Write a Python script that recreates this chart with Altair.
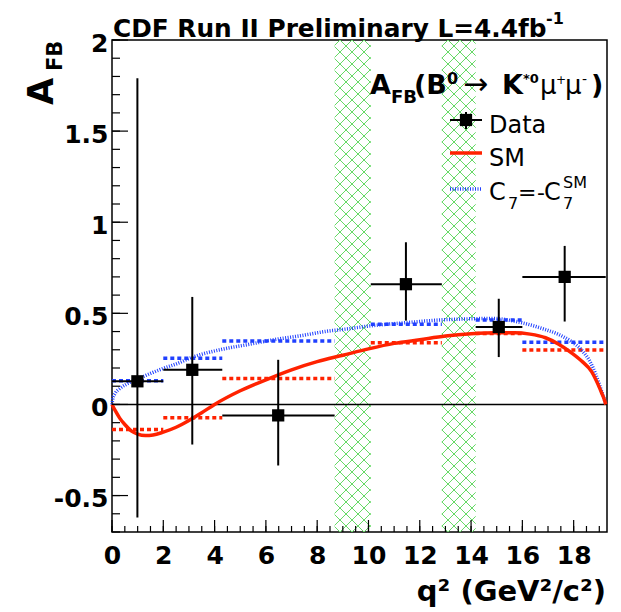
import altair as alt
import numpy as np
import pandas as pd

# ---------------- data ----------------
bin_lo = [0.0, 2.0, 4.3, 10.09, 14.18, 16.0]
bin_hi = [2.0, 4.3, 8.68, 12.86, 16.0, 19.25]
q2_center = [0.99, 3.13, 6.48, 11.46, 15.08, 17.65]
afb = [0.127, 0.19, -0.06, 0.66, 0.425, 0.70]
afb_lo = [-0.62, -0.22, -0.335, 0.46, 0.26, 0.455]
afb_hi = [1.79, 0.59, 0.245, 0.89, 0.58, 0.87]

sm_bin = [-0.137, -0.073, 0.143, 0.339, 0.39, 0.299]
c7_bin = [0.130, 0.253, 0.348, 0.440, 0.463, 0.341]

veto_lo = [8.68, 12.86]
veto_hi = [10.09, 14.18]

sm_q2 = [0.0, 0.15, 0.3, 0.5, 0.75, 1.0, 1.3, 1.6, 2.0, 2.5,
         3.0, 3.5, 4.0, 5.0, 6.0, 7.0, 8.0, 9.0, 10.0, 11.0,
         12.0, 13.0, 14.0, 15.0, 15.7, 16.3, 16.9, 17.4, 17.9, 18.3,
         18.7, 18.95, 19.1, 19.2, 19.25]
sm_afb = [0.0, -0.04, -0.075, -0.11, -0.145, -0.163, -0.171, -0.168, -0.152, -0.125,
          -0.088, -0.045, 0.0, 0.075, 0.135, 0.19, 0.235, 0.27, 0.305, 0.335,
          0.355, 0.375, 0.388, 0.394, 0.394, 0.386, 0.366, 0.332, 0.285, 0.24,
          0.18, 0.11, 0.06, 0.025, 0.0]

c7_q2 = [0.0, 0.03, 0.12, 0.31, 0.55, 0.83, 1.2, 1.5, 2.0, 2.5,
         3.15, 4.2, 5.35, 6.3, 7.3, 8.45, 9.2, 10.0, 11.4, 12.84,
         14.0, 14.9, 15.5, 15.94, 16.4, 16.85, 17.4, 17.88, 18.3, 18.66,
         18.85, 19.0, 19.12, 19.2, 19.25]
c7_afb = [0.0, 0.03, 0.06, 0.088, 0.11, 0.13, 0.152, 0.17, 0.198, 0.222,
          0.26, 0.3, 0.33, 0.355, 0.376, 0.403, 0.415, 0.43, 0.448, 0.464,
          0.47, 0.472, 0.462, 0.45, 0.433, 0.413, 0.385, 0.348, 0.3, 0.229,
          0.17, 0.11, 0.06, 0.025, 0.0]

x_labels = [0, 2, 4, 6, 8, 10, 12, 14, 16, 18]
y_labels = [-0.5, 0, 0.5, 1, 1.5, 2]

# ---------------- layout ----------------
X_DOM = [0.0, 19.3]
Y_DOM = [-0.7, 2.0]
W, H = 495, 492
OX, OY = 112, 40  # plot origin in the page
FONT = "DejaVu Sans"
RED = "#ff2200"
BLUE = "#2040ff"
GREEN = "#66d966"

xs = alt.Scale(domain=X_DOM, nice=False, zero=False)
ys = alt.Scale(domain=Y_DOM, nice=False, zero=False)
X_AXIS = alt.Axis(values=x_labels, ticks=False, domain=False, grid=False, title=None,
                  labelFont=FONT, labelFontWeight="bold", labelFontSize=25,
                  labelPadding=11, labelColor="black", labelFlush=False, labelOverlap=False)
Y_AXIS = alt.Axis(values=y_labels, ticks=False, domain=False, grid=False, title=None,
                  labelFont=FONT, labelFontWeight="bold", labelFontSize=25,
                  labelPadding=4, labelColor="black", labelFlush=False, labelOverlap=False,
                  labelExpr="toString(datum.value)", labelOffset=3)


def X(f):
    return alt.X(f, type="quantitative", scale=xs, axis=X_AXIS)


def Y(f):
    return alt.Y(f, type="quantitative", scale=ys, axis=Y_AXIS)


# ---------------- hatch of the vetoed charmonium regions ----------------
pxu = W / (X_DOM[1] - X_DOM[0])
pyu = H / (Y_DOM[1] - Y_DOM[0])
d = 12.0
segs = []
for lo, hi in zip(veto_lo, veto_hi):
    X0, X1 = (lo - X_DOM[0]) * pxu, (hi - X_DOM[0]) * pxu
    for c in np.arange(np.floor((X0 - H) / d) * d, X1 + d, d):
        a, b = max(0.0, X0 - c), min(float(H), X1 - c)
        if b > a:
            segs.append((c + a, a, c + b, b))
    for c in np.arange(np.floor(X0 / d) * d, X1 + H + d, d):
        a, b = max(0.0, c - X1), min(float(H), c - X0)
        if b > a:
            segs.append((c - a, a, c - b, b))
hatch = pd.DataFrame(
    [{"x": X_DOM[0] + s[0] / pxu, "y": Y_DOM[1] - s[1] / pyu,
      "x2": X_DOM[0] + s[2] / pxu, "y2": Y_DOM[1] - s[3] / pyu} for s in segs])

hatch_layer = alt.Chart(hatch).mark_rule(color=GREEN, strokeWidth=1, clip=True).encode(
    x=X("x"), y=Y("y"), x2="x2", y2="y2")

zero_layer = alt.Chart(pd.DataFrame({"y": [0.0]})).mark_rule(color="black", strokeWidth=1.5).encode(
    y=Y("y"), x=alt.value(0), x2=alt.value(W))

bins = pd.DataFrame({"lo": bin_lo, "hi": bin_hi, "sm": sm_bin, "c7": c7_bin})
sm_bin_layer = alt.Chart(bins).mark_rule(color=RED, strokeWidth=3.5, strokeDash=[4, 3]).encode(
    x=X("lo"), x2="hi", y=Y("sm"))
c7_bin_layer = alt.Chart(bins).mark_rule(color=BLUE, strokeWidth=3.5, strokeDash=[4, 3]).encode(
    x=X("lo"), x2="hi", y=Y("c7"))

c7_curve = alt.Chart(pd.DataFrame({"q2": c7_q2, "a": c7_afb})).mark_line(
    color=BLUE, strokeWidth=3.5, strokeDash=[1, 1.5], interpolate="monotone").encode(
    x=X("q2"), y=Y("a"), order="q2:Q")
sm_curve = alt.Chart(pd.DataFrame({"q2": sm_q2, "a": sm_afb})).mark_line(
    color=RED, strokeWidth=3.5, interpolate="monotone").encode(
    x=X("q2"), y=Y("a"), order="q2:Q")

pts = pd.DataFrame({"q2": q2_center, "a": afb, "alo": afb_lo, "ahi": afb_hi,
                    "lo": bin_lo, "hi": bin_hi})
hbar = alt.Chart(pts).mark_rule(color="black", strokeWidth=2).encode(x=X("lo"), x2="hi", y=Y("a"))
vbar = alt.Chart(pts).mark_rule(color="black", strokeWidth=2).encode(x=X("q2"), y=Y("alo"), y2="ahi")
squares = alt.Chart(pts).mark_square(color="black", size=150, opacity=1).encode(x=X("q2"), y=Y("a"))

# ---------------- inside ticks ----------------
x_minor = pd.DataFrame({"t": np.arange(0.0, 19.01, 0.5)})
x_major = pd.DataFrame({"t": np.array(x_labels, dtype=float)})
y_minor = pd.DataFrame({"t": np.round(np.arange(-0.7, 2.001, 0.1), 2)})
y_major = pd.DataFrame({"t": np.array(y_labels, dtype=float)})
tk = dict(color="black", strokeWidth=1.2)
xt_minor = alt.Chart(x_minor).mark_rule(**tk).encode(x=X("t"), y=alt.value(H), y2=alt.value(H - 6))
xt_major = alt.Chart(x_major).mark_rule(**tk).encode(x=X("t"), y=alt.value(H), y2=alt.value(H - 12))
yt_minor = alt.Chart(y_minor).mark_rule(**tk).encode(y=Y("t"), x=alt.value(0), x2=alt.value(8))
yt_major = alt.Chart(y_major).mark_rule(**tk).encode(y=Y("t"), x=alt.value(0), x2=alt.value(16))


# ---------------- text ----------------
def txt(s, x, y, size, bold=True, angle=0, align="left"):
    return alt.Chart(alt.Data(values=[{"k": 0}])).mark_text(
        text=s, font=FONT, fontSize=size, fontWeight="bold" if bold else "normal",
        align=align, baseline="alphabetic", angle=angle, color="black").encode(
        x=alt.value(x - OX), y=alt.value(y - OY))


texts = [
    txt("CDF Run II Preliminary L=4.4fb", 113, 37, 24.8),
    txt("-1", 546, 24, 16),
    txt("A", 53, 105, 35, angle=270),
    txt("FB", 62, 71, 21, angle=270),
    txt("q\u00b2 (GeV\u00b2/c\u00b2)", 606, 601, 29, align="right"),
    # legend header
    txt("A", 370, 94, 27),
    txt("FB", 391, 103, 18),
    txt("(B", 414, 94, 27),
    txt("0", 447, 84, 16),
    txt("\u2192", 463, 94, 30, bold=False),
    txt("K", 502, 94, 27),
    txt("*0", 523, 83, 13),
    txt("\u03bc", 540, 94, 26, bold=False),
    txt("+", 556, 84, 12, bold=False),
    txt("\u03bc", 565, 94, 26, bold=False),
    txt("-", 582, 84, 14, bold=False),
    txt(")", 591, 94, 27),
    # legend entries
    txt("Data", 489, 133, 24, bold=False),
    txt("SM", 489, 166, 24, bold=False),
    txt("C", 489, 200, 24, bold=False),
    txt("7", 508, 209, 16, bold=False),
    txt("=", 518, 200, 22, bold=False),
    txt("-", 537, 200, 22, bold=False),
    txt("C", 544, 200, 24, bold=False),
    txt("SM", 563, 188, 16, bold=False),
    txt("7", 563, 209, 16, bold=False),
]

one = alt.Data(values=[{"k": 0}])
leg = [
    alt.Chart(one).mark_rule(color="black", strokeWidth=2).encode(
        x=alt.value(450 - OX), x2=alt.value(482 - OX), y=alt.value(120 - OY)),
    alt.Chart(one).mark_rule(color="black", strokeWidth=2).encode(
        x=alt.value(466 - OX), y=alt.value(112 - OY), y2=alt.value(129 - OY)),
    alt.Chart(one).mark_square(color="black", size=150, opacity=1).encode(
        x=alt.value(466 - OX), y=alt.value(120 - OY)),
    alt.Chart(one).mark_rule(color=RED, strokeWidth=3.5).encode(
        x=alt.value(450 - OX), x2=alt.value(482 - OX), y=alt.value(153 - OY)),
    alt.Chart(one).mark_rule(color=BLUE, strokeWidth=3.5, strokeDash=[1, 1.5]).encode(
        x=alt.value(450 - OX), x2=alt.value(482 - OX), y=alt.value(189 - OY)),
]

chart = alt.layer(
    hatch_layer, zero_layer, sm_bin_layer, c7_bin_layer, c7_curve, sm_curve,
    hbar, vbar, squares, xt_minor, xt_major, yt_minor, yt_major, *leg, *texts
).properties(
    width=W, height=H,
    autosize=alt.AutoSizeParams(type="none"),
    padding={"left": OX, "top": OY, "right": 621 - OX - W, "bottom": 612 - OY - H},
    background="white",
).configure_view(stroke="black", strokeWidth=1.5)

chart.save("out.html", embed_options={"renderer": "svg", "actions": False})
